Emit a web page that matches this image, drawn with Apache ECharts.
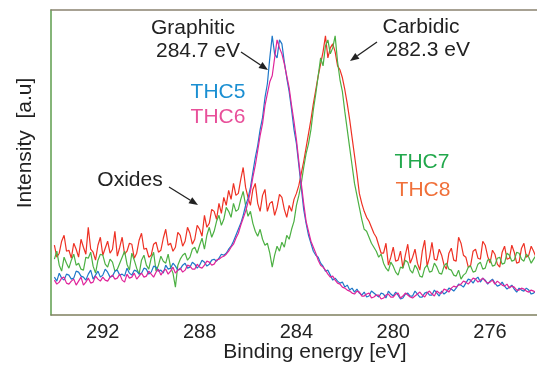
<!DOCTYPE html>
<html>
<head>
<meta charset="utf-8">
<script src="https://cdn.jsdelivr.net/npm/echarts@6/dist/echarts.min.js"></script>
<style>
  html, body { margin: 0; padding: 0; background: #fff; }
  #chart { width: 537px; height: 365px; }
</style>
</head>
<body>
<div id="chart"></div>
<script>
// binding energy grid, 0.1 eV steps from 294.0 down to 274.1
const energies = Array.from({ length: 200 }, (_, i) => +(294 - 0.1 * i).toFixed(1));
const tickValues = [292, 288, 284, 280, 276];

// intensities (a.u.)
const thc5 = [
  38, 34, 42, 37, 35, 41, 40, 36, 37, 44, 43, 39, 38, 35, 41, 45, 36, 40, 44, 38, 40, 46,
  43, 38, 39, 44, 45, 40, 41, 39, 47, 42, 40, 45, 44, 41, 42, 47, 46, 41, 43, 49,
  48, 44, 45, 42, 50, 46, 47, 52, 49, 45, 46, 50, 52, 47, 48, 53, 51, 47, 50, 55,
  53, 49, 51, 55, 56, 54, 57, 61, 60, 62, 66, 69, 74, 80, 86, 92, 100, 110, 117, 128, 143, 158, 170, 186, 198, 218,
  232, 258, 280, 262, 258, 276, 272, 254, 238, 224, 206, 186, 172, 150,
  128, 106, 92, 80, 72, 64, 60, 58, 52, 49, 44, 45, 40, 35, 37, 34, 32, 33, 28, 30, 25, 27, 23, 26, 22, 20,
  23, 18, 19, 24, 22, 20, 18, 22, 21, 17, 24, 21, 19, 23, 20, 16, 17, 21, 22, 19, 19, 24, 21, 18, 18, 22, 23, 20, 20, 25, 22, 19, 24, 21, 23, 27, 26, 24,
  27, 31, 30, 28, 32, 36, 35, 32, 36, 38, 33, 37, 35, 31, 34, 36, 32, 29, 30, 33, 29, 26, 28, 30, 26, 23, 27, 25, 24, 27, 25, 21, 22, 24
];
const thc6 = [
  35, 31, 33, 37, 38, 32, 31, 34, 36, 30, 34, 38, 30, 33, 37, 32, 33, 39, 36, 34, 38, 35,
  34, 38, 40, 36, 37, 41, 35, 33, 41, 37, 38, 42, 36, 39, 42, 38, 39, 44, 41, 38,
  43, 46, 40, 44, 46, 41, 44, 48, 42, 45, 47, 43, 45, 50, 49, 46, 46, 51, 48, 47,
  50, 54, 53, 50, 51, 55, 56, 58, 59, 61, 64, 68, 71, 77, 82, 90, 97, 104, 113, 124, 138, 150, 165, 180, 192, 210,
  222, 234, 240, 258, 276, 268, 262, 252, 240, 228, 210, 194, 176, 154,
  132, 112, 94, 84, 74, 68, 62, 55, 50, 48, 45, 41, 38, 39, 35, 32, 31, 28, 27, 25, 24, 22, 21, 24, 23, 19,
  19, 21, 22, 17, 18, 20, 20, 16, 17, 20, 21, 18, 18, 21, 22, 17, 19, 22, 20, 18, 17, 19, 21, 23, 20, 18, 22, 24, 21, 19, 24, 22, 22, 26, 25, 23, 27, 29,
  28, 30, 31, 34, 33, 31, 34, 37, 36, 33, 35, 37, 34, 32, 33, 35, 31, 34, 32, 30, 29, 31, 27, 29, 28, 25, 25, 27, 26, 24, 23, 25, 24, 22
];
const thc7 = [
  56, 64, 50, 44, 58, 52, 47, 55, 61, 50, 52, 46, 45, 58, 57, 63, 49, 42, 55, 61, 60, 51,
  48, 56, 53, 44, 46, 52, 58, 64, 51, 45, 62, 55, 47, 41, 55, 60, 50, 46, 57, 63,
  44, 50, 59, 54, 52, 61, 48, 42, 28, 50, 56, 60, 62, 55, 58, 66, 68, 62, 70, 77,
  66, 80, 88, 78, 84, 94, 100, 90, 96, 108, 104, 98, 112, 104, 106, 116, 124, 110, 99, 104, 92, 84, 79, 86, 76, 70,
  72, 62, 48, 60, 69, 64, 73, 68, 80, 76, 86, 94, 110, 120,
  132, 148, 162, 172, 186, 206, 222, 240, 258, 250, 270, 276, 262, 268, 280, 254, 236, 224, 204, 186, 168, 150, 132, 120, 108, 96,
  86, 84, 78, 72, 68, 64, 58, 61, 52, 47, 44, 53, 49, 43, 40, 48, 47, 55, 53, 45, 42, 50, 46, 39, 38, 47, 50, 43, 44, 52, 48, 42, 41, 49, 52, 46, 45, 40,
  39, 45, 36, 40, 42, 48, 49, 43, 44, 51, 53, 46, 47, 55, 56, 49, 50, 57, 58, 51, 52, 62, 60, 54, 55, 63, 62, 56, 54, 61, 58, 52, 56, 60
];
const thc8 = [
  70, 58, 62, 74, 80, 64, 65, 57, 72, 66, 58, 76, 68, 61, 88, 66, 63, 55, 70, 78, 60, 67,
  74, 62, 66, 84, 59, 68, 78, 61, 64, 72, 71, 57, 62, 75, 82, 66, 67, 58, 60, 71,
  73, 63, 65, 77, 86, 70, 72, 64, 68, 83, 80, 69, 74, 88, 82, 71, 76, 90, 86, 79,
  100, 88, 92, 106, 104, 96, 112, 102, 118, 110, 125, 116, 132, 120, 122, 136, 148, 128, 118, 110, 126, 132, 112, 104, 120, 126,
  104, 112, 114, 100, 108, 121, 118, 106, 98, 110, 104, 116, 122, 130,
  142, 154, 168, 182, 196, 212, 226, 240, 252, 264, 280, 258, 268, 272, 264, 250, 246, 238, 226, 212, 196, 178, 160, 142, 122, 112,
  104, 98, 94, 88, 82, 78, 70, 62, 62, 72, 50, 58, 68, 54, 55, 64, 47, 60, 71, 52, 58, 66, 52, 45, 64, 75, 49, 58, 73, 56, 55, 66, 60, 50, 46, 62, 67, 55,
  54, 78, 72, 60, 58, 48, 50, 64, 66, 57, 56, 74, 70, 59, 52, 65, 61, 51, 48, 63, 69, 56, 57, 70, 63, 52, 53, 67, 72, 58, 60, 69, 64, 58
];

const FONT = '"Liberation Sans", Arial, Helvetica, sans-serif';

const chart = echarts.init(document.getElementById('chart'), null, { renderer: 'canvas' });

const pairs = (vals) => energies.map((e, i) => [e, vals[i]]);

const lineSeries = (name, vals, color) => ({
  name,
  type: 'line',
  data: pairs(vals),
  showSymbol: false,
  symbol: 'none',
  lineStyle: { color, width: 1.2 },
  animation: false
});

// arrow: shaft + filled head, pixel positions
function arrow(x1, y1, x2, y2) {
  const ang = Math.atan2(y2 - y1, x2 - x1);
  const len = 9, half = 3.6;
  const bx = x2 - len * Math.cos(ang), by = y2 - len * Math.sin(ang);
  const px = -Math.sin(ang) * half, py = Math.cos(ang) * half;
  return [
    { type: 'line', shape: { x1, y1, x2: bx, y2: by }, style: { stroke: '#222', lineWidth: 1.3 } },
    { type: 'polygon', shape: { points: [[x2, y2], [bx + px, by + py], [bx - px, by - py]] }, style: { fill: '#222' } }
  ];
}

const txt = (text, x, y, color, extra) => Object.assign({
  type: 'text', x, y,
  style: { text, fill: color, font: '21px ' + FONT, align: 'center', verticalAlign: 'middle' }
}, extra || {});

const X_MIN = 274.06, X_MAX = 294.14;

const option = {
  backgroundColor: '#fff',
  animation: false,
  grid: { left: 51, right: 0, top: 10, bottom: 50 },
  xAxis: [
    {
      type: 'value',
      inverse: true,
      min: X_MIN,
      max: X_MAX,
      position: 'bottom',
      axisLine: { show: true, onZero: false, lineStyle: { color: '#7f805f', width: 1.5 } },
      axisTick: { show: false },
      splitLine: { show: false },
      axisLabel: {
        customValues: tickValues,
        color: '#222',
        fontSize: 20,
        fontFamily: FONT,
        margin: 7
      }
    },
    {
      type: 'value',
      inverse: true,
      min: X_MIN,
      max: X_MAX,
      position: 'top',
      axisLine: { show: true, onZero: false, lineStyle: { color: '#8a8270', width: 1.5 } },
      axisTick: { show: false },
      axisLabel: { show: false },
      splitLine: { show: false }
    }
  ],
  yAxis: {
    type: 'value',
    min: 0,
    max: 306,
    position: 'left',
    axisLine: { show: true, onZero: false, lineStyle: { color: '#5c9c4c', width: 1.5 } },
    axisTick: { show: false },
    axisLabel: { show: false },
    splitLine: { show: false }
  },
  series: [
    lineSeries('THC8', thc8, '#ee3124'),
    lineSeries('THC7', thc7, '#4cb043'),
    lineSeries('THC5', thc5, '#1f78c8'),
    lineSeries('THC6', thc6, '#e0249a')
  ],
  graphic: [
    // the frame is open on the right, the plot runs off the picture
    { type: 'rect', z: 100, shape: { x: 535, y: 11, width: 3, height: 303 }, style: { fill: '#fff' } },
    txt('Binding energy [eV]', 315, 352, '#222'),
    txt('Intensity  [a.u]', 25, 143, '#222', { rotation: Math.PI / 2 }),
    txt('Graphitic', 193, 28, '#222'),
    txt('284.7 eV', 198, 51, '#222'),
    txt('Carbidic', 421, 27, '#222'),
    txt('282.3 eV', 428, 50, '#222'),
    txt('Oxides', 130, 180, '#222'),
    txt('THC5', 218, 92, '#1b8fd2'),
    txt('THC6', 218, 117, '#e8509a'),
    txt('THC7', 422, 162, '#22a84c'),
    txt('THC8', 423, 190, '#f0703a'),
    ...arrow(241, 52, 268, 70),
    ...arrow(377, 42, 350, 61),
    ...arrow(169, 187, 198, 205)
  ]
};

chart.setOption(option);
</script>
</body>
</html>
